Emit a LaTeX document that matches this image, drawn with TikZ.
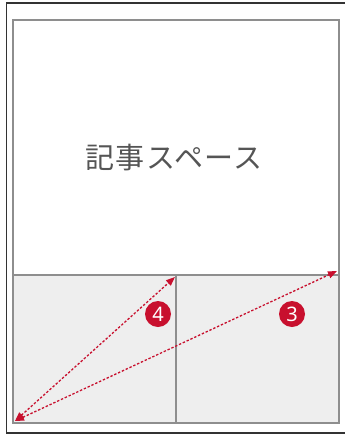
\documentclass[tikz,border=0pt]{standalone}
\usepackage{fontspec}
\setmainfont{Noto Sans}
\newfontfamily\cjk{Noto Sans CJK JP}
\usetikzlibrary{arrows.meta}
\definecolor{frameDark}{HTML}{333333}
\definecolor{boxGray}{HTML}{8E8E8E}
\definecolor{panelFill}{HTML}{EEEEEE}
\definecolor{accentRed}{HTML}{C8102E}
\definecolor{textGray}{HTML}{555555}
\tikzset{
  outerframe/.style={draw=frameDark, line width=1.5pt},
  panelbox/.style={draw=boxGray, line width=1.1pt},
  reddash/.style={draw=accentRed, line width=1.3pt, dash pattern=on 2.4pt off 1.8pt,
    {Triangle[length=9pt,width=7pt]}-{Triangle[length=9pt,width=7pt]}},
  badge/.style={circle, fill=accentRed, text=white, minimum size=26pt, inner sep=0pt,
    font=\fontsize{20}{20}\selectfont}
}
\begin{document}
\begin{tikzpicture}[x=1pt,y=-1pt]
\useasboundingbox (0,0) rectangle (345,437);
\fill[white] (0,0) rectangle (345,437);
% outer frame (open on right)
\draw[outerframe] (345,3) -- (6.5,3) -- (6.5,433) -- (345,433);
% inner box
\fill[panelFill] (13,275) rectangle (339,423);
\draw[panelbox] (13,20) rectangle (339,423);
\draw[panelbox] (13,275) -- (339,275);
\draw[panelbox] (176,275) -- (176,423);
% text
\node[text=textGray, font=\cjk\fontsize{29}{29}\selectfont\addfontfeature{LetterSpace=4}] (title) at (174,158) {記事スペース};
% arrows
\coordinate (bl) at (15,421);
\coordinate (tm) at (175,277);
\coordinate (tr) at (337,271);
\draw[reddash] (bl) -- (tm);
\draw[reddash] (bl) -- (tr);
% badges
\node[badge] (b4) at (158,314) {4};
\node[badge] (b3) at (292,314) {3};
\end{tikzpicture}
\end{document}
